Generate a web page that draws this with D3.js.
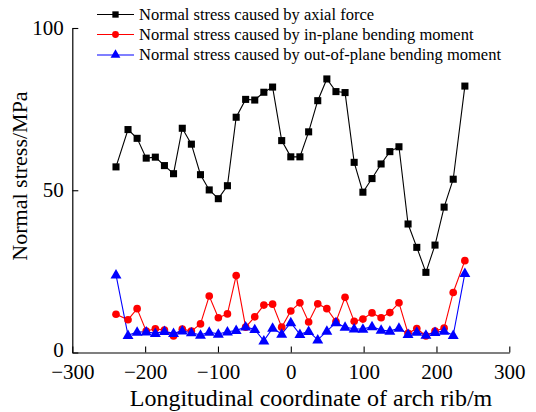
<!DOCTYPE html>
<html>
<head>
<meta charset="utf-8">
<script src="https://cdn.jsdelivr.net/npm/d3@7"></script>
<style>
  html, body { margin: 0; padding: 0; background: #fff; }
  svg { display: block; }
  text { font-family: "Liberation Serif", "Times New Roman", serif; fill: #000; }
</style>
</head>
<body>
<svg id="chart" width="536" height="412"></svg>
<script>
// ---- data ----
const xCoord = [-240, -223.5, -211, -198.5, -186, -173.5, -161, -149, -136.5, -124, -112, -99.5, -87, -75, -62, -49.5, -37, -25, -12.5, 0, 12.5, 24.5, 37, 49.5, 62, 74.5, 87, 99, 111.5, 124, 136, 148.5, 161, 173, 185.5, 198, 210.5, 223, 239];
const axialForce = [57.2, 68.7, 66.0, 59.9, 60.2, 57.6, 55.1, 69.1, 64.2, 54.8, 50.1, 47.4, 51.4, 72.5, 78.0, 77.8, 80.2, 81.8, 65.3, 60.3, 60.3, 68.0, 77.6, 84.3, 80.4, 80.1, 58.6, 49.4, 53.6, 58.1, 61.9, 63.4, 39.6, 32.4, 24.7, 33.1, 44.8, 53.4, 82.1];
const inPlaneMoment = [11.8, 10.1, 13.5, 6.6, 7.3, 6.9, 5.1, 7.2, 6.6, 8.8, 17.4, 10.7, 11.9, 23.7, 7.8, 11.0, 14.6, 14.9, 7.8, 12.8, 15.3, 9.4, 15.0, 13.5, 9.5, 17.0, 9.6, 10.3, 12.2, 10.7, 12.3, 15.3, 5.9, 7.4, 5.1, 6.6, 7.5, 18.5, 28.3];
const outPlaneMoment = [23.9, 5.3, 6.3, 6.4, 5.9, 6.5, 5.9, 6.7, 6.1, 5.4, 6.3, 5.7, 6.4, 6.8, 7.9, 7.1, 3.6, 7.5, 5.7, 9.2, 5.6, 6.5, 3.9, 6.6, 9.2, 7.8, 7.3, 7.2, 8.0, 6.9, 6.6, 7.5, 5.6, 6.3, 5.4, 6.2, 6.6, 5.3, 24.4];
const seriesNames = ["Normal stress caused by axial force", "Normal stress caused by in-plane bending moment", "Normal stress caused by out-of-plane bending moment"];
const seriesColors = ["#000000", "#ff0000", "#0000ff"];
const xTicks = [-300, -200, -100, 0, 100, 200, 300];
const yTicks = [0, 50, 100];
const xTitle = "Longitudinal coordinate of arch rib/m";
const yTitle = "Normal stress/MPa";

// ---- layout ----
const svg = d3.select("#chart");
const plotLeft = 72.3, plotRight = 509.3, plotTop = 28, plotBottom = 352.5;
const x = d3.scaleLinear().domain([-300, 300]).range([plotLeft, plotRight]);
const y = d3.scaleLinear().domain([0, 100]).range([plotBottom, plotTop]);

// axes (ticks pointing inward)
const xAxis = d3.axisBottom(x).tickValues(xTicks).tickSizeInner(-6).tickSizeOuter(0)
  .tickFormat(d => d < 0 ? "\u2212" + Math.abs(d) : String(d)).tickPadding(12);
const gx = svg.append("g").attr("transform", `translate(0,${plotBottom})`).call(xAxis);
gx.select(".domain").attr("stroke", "#000").attr("stroke-width", 1.2);
gx.selectAll(".tick line").attr("stroke", "#000").attr("stroke-width", 1.1);
gx.selectAll(".tick text").attr("font-size", 21).attr("font-family", "Liberation Serif").attr("fill", "#000").attr("dy", "0.71em");

const yAxis = d3.axisLeft(y).tickValues(yTicks).tickSizeInner(-6).tickSizeOuter(0).tickPadding(8.5);
const gy = svg.append("g").attr("transform", `translate(${plotLeft},0)`).call(yAxis);
gy.select(".domain").attr("stroke", "#000").attr("stroke-width", 1.2);
gy.selectAll(".tick line").attr("stroke", "#000").attr("stroke-width", 1.1);
gy.selectAll(".tick text").attr("font-size", 21).attr("font-family", "Liberation Serif").attr("fill", "#000");
gy.selectAll(".tick").filter(d => d === 0).select("text").attr("dy", "0.2em");

// axis titles
svg.append("text").attr("x", 311).attr("y", 406)
  .attr("text-anchor", "middle").attr("font-size", 24).text(xTitle);
svg.append("text").attr("transform", `translate(27,${176}) rotate(-90)`)
  .attr("text-anchor", "middle").attr("font-size", 22).text(yTitle);

// series
const seriesData = [axialForce, inPlaneMoment, outPlaneMoment];
const symbols = [d3.symbolSquare, d3.symbolCircle, d3.symbolTriangle];
const symSizes = [50, 46, 52];
const line = d3.line().x(d => x(d[0])).y(d => y(d[1]));

seriesData.forEach((vals, i) => {
  const pts = xCoord.map((xv, j) => [xv, vals[j]]);
  svg.append("path").datum(pts).attr("d", line)
    .attr("fill", "none").attr("stroke", seriesColors[i]).attr("stroke-width", 1.1);
});
seriesData.forEach((vals, i) => {
  const pts = xCoord.map((xv, j) => [xv, vals[j]]);
  const sym = d3.symbol().type(symbols[i]).size(symSizes[i]);
  svg.append("g").selectAll("path").data(pts).join("path")
    .attr("transform", d => `translate(${x(d[0])},${y(d[1]) + (i === 2 ? 0.5 : 0)})`)
    .attr("d", sym).attr("fill", seriesColors[i]);
});

// legend
const legY = [14.5, 34.5, 55];
seriesNames.forEach((name, i) => {
  const g = svg.append("g");
  g.append("line").attr("x1", 97).attr("x2", 134).attr("y1", legY[i]).attr("y2", legY[i])
    .attr("stroke", seriesColors[i]).attr("stroke-width", 1.1);
  g.append("path").attr("transform", `translate(115.5,${legY[i]})`)
    .attr("d", d3.symbol().type(symbols[i]).size(symSizes[i] * 0.8)()).attr("fill", seriesColors[i]);
  g.append("text").attr("x", 139).attr("y", legY[i]).attr("dy", "0.33em")
    .attr("font-size", 16.5).text(name);
});
</script>
</body>
</html>
